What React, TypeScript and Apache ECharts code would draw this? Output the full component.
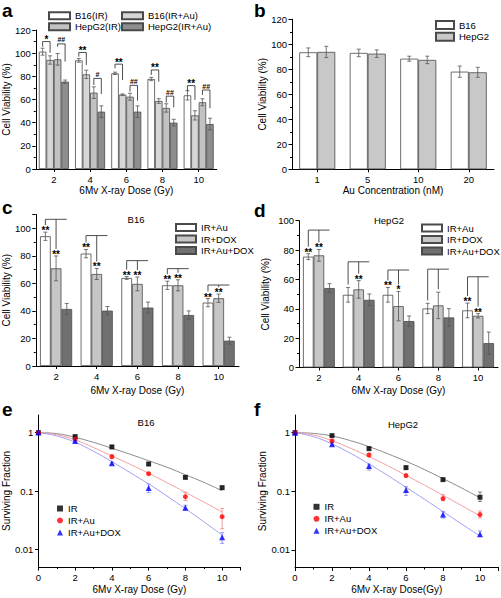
import React, { useEffect, useRef } from 'react';
import * as echarts from 'echarts';

const FONT = '"Liberation Sans", Arial, Helvetica, sans-serif';

// ---------- Panel a ----------
const doseCats = ['2', '4', '6', '8', '10'];
const aB16IR = [101.3, 93.8, 82.6, 77.7, 63.6];
const aB16IRErr = [3, 1.6, 1, 1.4, 4];
const aB16IRAu = [94.1, 81.7, 64.2, 58.7, 46.3];
const aB16IRAuErr = [3.6, 3.6, 0.6, 2, 4];
const aHepIR = [94.7, 65.9, 62.4, 52.7, 57.6];
const aHepIRErr = [5, 5, 3, 3.6, 3];
const aHepIRAu = [75.4, 49.5, 49.5, 40, 38.8];
const aHepIRAuErr = [1.4, 5, 5, 2.9, 5];
// significance brackets
const aBr1Top = [110, 100.6, 90.5, 85.5, 72];
const aBr1Left = [105.6, 97, 86.9, 81.2, 67.3];
const aBr1Right = [100.4, 89.8, 76.8, 75.4, 59.6];
const aBr1Label = ['*', '**', '**', '**', '**'];
const aBr2Top = [108, 78.2, 72.2, 62.9, 68.2];
const aBr2Left = [105.6, 72.5, 66.8, 57.3, 63.9];
const aBr2Right = [92.7, 64.7, 59, 53.2, 52.4];
const aBr2Label = ['##', '#', '##', '##', '##'];

// ---------- Panel b ----------
const auCats = ['1', '5', '10', '20'];
const bB16 = [93.6, 93.1, 88.5, 78.1];
const bB16Err = [3.5, 3, 2, 4.5];
const bHep = [93.9, 92.5, 87.5, 77.6];
const bHepErr = [4.5, 3, 3, 4];

// ---------- Panel c ----------
const cIRAu = [94.2, 81.6, 63.9, 58.6, 46];
const cIRAuErr = [3, 3, 1, 3, 3];
const cIRDOX = [70.9, 66.8, 59.6, 58.6, 49.2];
const cIRDOXErr = [9, 4, 5, 4, 3];
const cIRAuDOX = [41.4, 40.2, 42.4, 37, 18.4];
const cIRAuDOXErr = [4, 3, 4, 3, 2.5];
const cStarsAu = ['**', '**', '**', '**', '**'];
const cStarsDOX = ['**', '**', '**', '**', '**'];
const cBrTop = [106.5, 94.7, 76.5, 70.7, 58.8];

// ---------- Panel d ----------
const dIRAu = [75.5, 49.5, 49.5, 40.2, 38.9];
const dIRAuErr = [2, 5, 5, 3.5, 5];
const dIRDOX = [76.4, 53.2, 41.8, 42.3, 35.2];
const dIRDOXErr = [4, 6, 10, 9, 1.5];
const dIRAuDOX = [54.1, 46.1, 31.6, 34.1, 16.6];
const dIRAuDOXErr = [3, 4, 3.5, 6, 7.5];
const dStarsAu = ['**', '', '**', '', '**'];
const dStarsDOX = ['**', '**', '*', '', '**'];
const dBrTop = [93.6, 72, 66.4, 67, 61.8];

// ---------- Panel e (B16 survival) ----------
const sfDose = [0, 2, 4, 6, 8, 10];
const eIR = [1, 0.854, 0.568, 0.29, 0.171, 0.114];
const eIRLo = [1, 0.82, 0.54, 0.275, 0.165, 0.108];
const eIRHi = [1, 0.88, 0.6, 0.305, 0.18, 0.12];
const eIRAu = [1, 0.768, 0.388, 0.198, 0.08, 0.0363];
const eIRAuLo = [1, 0.73, 0.36, 0.19, 0.0684, 0.0226];
const eIRAuHi = [1, 0.8, 0.41, 0.205, 0.0947, 0.0503];
const eDOX = [1, 0.72, 0.298, 0.112, 0.0518, 0.0161];
const eDOXLo = [1, 0.69, 0.285, 0.0935, 0.047, 0.0127];
const eDOXHi = [1, 0.75, 0.31, 0.132, 0.057, 0.0193];
const fitDose = [0, 1, 2, 3, 4, 5, 6, 7, 8, 9, 10];
const eFitIR = [1, 0.96, 0.83, 0.68, 0.54, 0.425, 0.33, 0.255, 0.19, 0.141, 0.101];
const eFitIRAu = [1, 0.92, 0.75, 0.553, 0.398, 0.286, 0.201, 0.139, 0.095, 0.0647, 0.0437];
const eFitDOX = [1, 0.877, 0.683, 0.479, 0.318, 0.206, 0.132, 0.082, 0.0498, 0.0298, 0.0176];

// ---------- Panel f (HepG2 survival) ----------
const fIR = [1, 0.889, 0.533, 0.253, 0.158, 0.079];
const fIRLo = [1, 0.86, 0.51, 0.24, 0.152, 0.067];
const fIRHi = [1, 0.92, 0.56, 0.265, 0.165, 0.097];
const fIRAu = [1, 0.721, 0.416, 0.185, 0.075, 0.04];
const fIRAuLo = [1, 0.69, 0.39, 0.175, 0.069, 0.035];
const fIRAuHi = [1, 0.75, 0.44, 0.195, 0.087, 0.046];
const fDOX = [1, 0.633, 0.27, 0.105, 0.04, 0.0185];
const fDOXLo = [1, 0.6, 0.23, 0.085, 0.035, 0.017];
const fDOXHi = [1, 0.67, 0.29, 0.12, 0.045, 0.021];
const fFitIR = [1, 0.97, 0.877, 0.73, 0.577, 0.438, 0.325, 0.234, 0.164, 0.114, 0.077];
const fFitIRAu = [1, 0.912, 0.73, 0.541, 0.39, 0.274, 0.187, 0.127, 0.0855, 0.057, 0.038];
const fFitDOX = [1, 0.855, 0.641, 0.445, 0.292, 0.187, 0.117, 0.073, 0.045, 0.0277, 0.0173];

// ---------- styles ----------
const BORDER = '#4a4a4a';
const ERRC = '#555';
const TICK_FS = 9.5;
const NAME_FS = 10;

function stripName(n: string) {
  return n.slice(n.indexOf(':') + 1);
}

function yValAxis(gi: number, max: number, nameGap: number) {
  return {
    type: 'value', gridIndex: gi, min: 0, max, interval: 20,
    name: 'Cell Viability (%)', nameLocation: 'middle', nameGap,
    nameTextStyle: { fontSize: NAME_FS, color: '#000', fontFamily: FONT },
    axisLine: { show: true, lineStyle: { color: '#000', width: 1 } },
    axisTick: { show: true, length: 3.5, lineStyle: { color: '#000' } },
    minorTick: { show: true, splitNumber: 2, length: 2, lineStyle: { color: '#000' } },
    axisLabel: { fontSize: TICK_FS, color: '#000', margin: 5, fontFamily: FONT, showMaxLabel: max % 20 === 0 },
    splitLine: { show: false },
  };
}

function xCatAxis(gi: number, cats: string[], name: string, nameGap: number) {
  return {
    type: 'category', gridIndex: gi, data: cats,
    name, nameLocation: 'middle', nameGap,
    nameTextStyle: { fontSize: NAME_FS, color: '#000', fontFamily: FONT },
    axisLine: { show: true, lineStyle: { color: '#000', width: 1 } },
    axisTick: { show: true, alignWithLabel: true, length: 3, lineStyle: { color: '#000' } },
    axisLabel: { fontSize: TICK_FS, color: '#000', margin: 5, fontFamily: FONT },
    splitLine: { show: false },
  };
}

function barSeries(name: string, gi: number, data: number[], w: number, color: string) {
  return {
    type: 'bar', name, xAxisIndex: gi, yAxisIndex: gi, data,
    barWidth: w, barGap: '0%',
    itemStyle: { color, borderColor: BORDER, borderWidth: 0.8 },
    z: 2, silent: true,
  };
}

function errSeries(gi: number, vals: number[], errs: number[], idx: number, n: number, w: number) {
  return {
    type: 'custom', xAxisIndex: gi, yAxisIndex: gi, z: 5, silent: true,
    itemStyle: { color: ERRC },
    data: vals.map((v, i) => [i, v, errs[i]]),
    renderItem: (params: any, api: any) => {
      const cat = api.value(0);
      const v = api.value(1);
      const e = api.value(2);
      const x = api.coord([cat, v])[0] + (idx - (n - 1) / 2) * w;
      const yT = api.coord([cat, v + e])[1];
      const yB = api.coord([cat, v - e])[1];
      const cap = 2;
      const st = { stroke: ERRC, lineWidth: 0.8 };
      return {
        type: 'group',
        children: [
          { type: 'line', shape: { x1: x, y1: yT, x2: x, y2: yB }, style: st },
          { type: 'line', shape: { x1: x - cap, y1: yT, x2: x + cap, y2: yT }, style: st },
          { type: 'line', shape: { x1: x - cap, y1: yB, x2: x + cap, y2: yB }, style: st },
        ],
      };
    },
  };
}

function txt(text: string, x: number, y: number, fontSize: number, opts: any = {}) {
  return {
    type: 'text', x, y,
    style: {
      text, fontSize, fontFamily: FONT, fill: '#000',
      align: opts.align || 'center',
      verticalAlign: opts.va || 'middle',
      fontWeight: opts.bold ? 'bold' : 'normal',
    },
  };
}

function starText(text: string, x: number, y: number, fontSize: number) {
  return {
    type: 'text', x, y,
    style: { text, fontSize, fontFamily: FONT, fontWeight: 'bold', fill: '#000', align: 'center', verticalAlign: 'bottom' },
  };
}

// panel a brackets
function aBracketSeries(pair: number, tops: number[], lefts: number[], rights: number[], labels: string[]) {
  const w = 7.5;
  return {
    type: 'custom', xAxisIndex: 0, yAxisIndex: 0, z: 6, silent: true,
    itemStyle: { color: '#000' },
    data: tops.map((t, i) => [i, t]),
    renderItem: (params: any, api: any) => {
      const i = params.dataIndex;
      const cat = api.value(0);
      const xc = api.coord([cat, 0])[0];
      const x1 = xc + (pair * 2 - 1.5) * w;
      const x2 = xc + (pair * 2 + 1 - 1.5) * w;
      const yT = api.coord([cat, tops[i]])[1];
      const yL = api.coord([cat, lefts[i]])[1];
      const yR = api.coord([cat, rights[i]])[1];
      const isHash = labels[i].indexOf('#') >= 0;
      return {
        type: 'group',
        children: [
          { type: 'polyline', shape: { points: [[x1, yL], [x1, yT], [x2, yT], [x2, yR]] }, style: { stroke: '#222', lineWidth: 0.8, fill: null } },
          starText(labels[i], (x1 + x2) / 2, isHash ? yT - 0.5 : yT + 3, isHash ? 7 : 10),
        ],
      };
    },
  };
}

// panels c/d brackets and stars
function cdBracketSeries(gi: number, w: number, tops: number[], v0: number[], e0: number[], s0: string[], v1: number[], e1: number[], s1: string[]) {
  return {
    type: 'custom', xAxisIndex: gi, yAxisIndex: gi, z: 6, silent: true,
    itemStyle: { color: '#000' },
    data: tops.map((t, i) => [i, t]),
    renderItem: (params: any, api: any) => {
      const i = params.dataIndex;
      const cat = api.value(0);
      const xc = api.coord([cat, 0])[0];
      const xs = [xc - w, xc, xc + w];
      const yT = api.coord([cat, tops[i]])[1];
      const children: any[] = [];
      const ends: number[] = [];
      const defs = [[v0, e0, s0], [v1, e1, s1]] as any[];
      defs.forEach((d, j) => {
        const yE = api.coord([cat, d[0][i] + d[1][i]])[1];
        const star = d[2][i];
        if (star) {
          children.push(starText(star, xs[j], yE + 3.5, 10));
          ends.push(yE - 7);
        } else {
          ends.push(yE - 3);
        }
      });
      children.push({ type: 'polyline', shape: { points: [[xs[0], ends[0]], [xs[0], yT], [xs[2], yT]] }, style: { stroke: '#222', lineWidth: 0.8, fill: null } });
      children.push({ type: 'line', shape: { x1: xs[1], y1: yT, x2: xs[1], y2: ends[1] }, style: { stroke: '#222', lineWidth: 0.8 } });
      return { type: 'group', children };
    },
  };
}

function logErrSeries(gi: number, lo: number[], hi: number[], color: string) {
  return {
    type: 'custom', xAxisIndex: gi, yAxisIndex: gi, z: 4, silent: true,
    itemStyle: { color },
    data: sfDose.map((d, i) => [d, lo[i], hi[i]]),
    renderItem: (params: any, api: any) => {
      const x = api.coord([api.value(0), api.value(1)])[0];
      const yL = api.coord([api.value(0), api.value(1)])[1];
      const yH = api.coord([api.value(0), api.value(2)])[1];
      const cap = 2;
      const st = { stroke: color, lineWidth: 0.8 };
      return {
        type: 'group',
        children: [
          { type: 'line', shape: { x1: x, y1: yH, x2: x, y2: yL }, style: st },
          { type: 'line', shape: { x1: x - cap, y1: yH, x2: x + cap, y2: yH }, style: st },
          { type: 'line', shape: { x1: x - cap, y1: yL, x2: x + cap, y2: yL }, style: st },
        ],
      };
    },
  };
}

function fitSeries(gi: number, ys: number[], color: string) {
  return {
    type: 'line', xAxisIndex: gi, yAxisIndex: gi, z: 2, silent: true,
    data: fitDose.map((d, i) => [d, ys[i]]),
    smooth: 0.4, showSymbol: false, symbol: 'none',
    lineStyle: { color, width: 1 },
  };
}

function pointSeries(name: string, gi: number, ys: number[], symbol: string, size: number, color: string) {
  return {
    type: 'scatter', name, xAxisIndex: gi, yAxisIndex: gi, z: 5, silent: true,
    data: sfDose.map((d, i) => [d, ys[i]]),
    symbol, symbolSize: size, itemStyle: { color },
  };
}

function xDoseAxis(gi: number, name: string) {
  return {
    type: 'value', gridIndex: gi, min: 0, max: 11, interval: 2,
    name, nameLocation: 'middle', nameGap: 17,
    nameTextStyle: { fontSize: NAME_FS, color: '#000', fontFamily: FONT },
    axisLine: { show: true, onZero: false, lineStyle: { color: '#000', width: 1 } },
    axisTick: { show: true, length: 3.5, lineStyle: { color: '#000' } },
    minorTick: { show: true, splitNumber: 2, length: 2, lineStyle: { color: '#000' } },
    axisLabel: { fontSize: TICK_FS, color: '#000', margin: 5, fontFamily: FONT, showMaxLabel: false },
    splitLine: { show: false },
  };
}

function yLogAxis(gi: number, nameGap: number) {
  return {
    type: 'log', logBase: 10, gridIndex: gi, min: 0.005, max: 2,
    name: 'Surviving Fraction', nameLocation: 'middle', nameGap,
    nameTextStyle: { fontSize: NAME_FS, color: '#000', fontFamily: FONT },
    axisLine: { show: true, onZero: false, lineStyle: { color: '#000', width: 1 } },
    axisTick: { show: true, length: 3.5, lineStyle: { color: '#000' } },
    axisLabel: { fontSize: TICK_FS, color: '#000', margin: 5, fontFamily: FONT, showMinLabel: false, showMaxLabel: false },
    splitLine: { show: false },
  };
}

const barLegend = (left: number, top: number, data: string[], iw: number, ih: number, gap: number) => ({
  left, top, orient: 'vertical', padding: 0, itemGap: gap, itemWidth: iw, itemHeight: ih,
  icon: 'rect', selectedMode: false, data, formatter: stripName,
  textStyle: { fontSize: 9.5, color: '#000', fontFamily: FONT, lineHeight: 11 },
});

const sfLegend = (left: number, top: number, p: string) => ({
  left, top, orient: 'vertical', padding: 0, itemGap: 1, itemWidth: 6, itemHeight: 6,
  selectedMode: false, formatter: stripName,
  data: [
    { name: p + ':IR', icon: 'rect' },
    { name: p + ':IR+Au', icon: 'circle' },
    { name: p + ':IR+Au+DOX', icon: 'triangle' },
  ],
  textStyle: { fontSize: 9.5, color: '#000', fontFamily: FONT, lineHeight: 11 },
});

export default function App() {
  const ref = useRef<HTMLDivElement>(null);
  useEffect(() => {
    if (!ref.current) return;
    const chart = echarts.init(ref.current, null, { renderer: 'svg' });
    const option: any = {
      animation: false,
      textStyle: { fontFamily: FONT },
      grid: [
        { left: 31.5, top: 30, width: 185.3, height: 139 },
        { left: 292, top: 19.3, width: 202, height: 150 },
        { left: 35, top: 214.5, width: 204, height: 151.5 },
        { left: 299, top: 220.7, width: 199, height: 146.8 },
        { left: 37.5, top: 415, width: 203, height: 152 },
        { left: 295, top: 415, width: 203.5, height: 152.5 },
      ],
      xAxis: [
        xCatAxis(0, doseCats, '6Mv X-ray Dose (Gy)', 16),
        xCatAxis(1, auCats, 'Au Concentration (nM)', 11),
        xCatAxis(2, doseCats, '6Mv X-ray Dose (Gy)', 19),
        xCatAxis(3, doseCats, '6Mv X-ray Dose (Gy)', 18),
        xDoseAxis(4, '6Mv X-ray Dose (Gy)'),
        xDoseAxis(5, '6Mv X-ray Dose(Gy)'),
      ],
      yAxis: [
        yValAxis(0, 120, 17.5),
        yValAxis(1, 120, 21),
        yValAxis(2, 110, 22.5),
        yValAxis(3, 100, 28.5),
        yLogAxis(4, 22),
        yLogAxis(5, 27),
      ],
      legend: [
        barLegend(48, 10.2, ['a:B16(IR)', 'a:HepG2(IR)'], 21, 7, 0),
        barLegend(121, 10.2, ['a:B16(IR+Au)', 'a:HepG2(IR+Au)'], 21, 7, 0),
        barLegend(435, 19.5, ['b:B16', 'b:HepG2'], 18, 8, 0.7),
        barLegend(175, 222, ['c:IR+Au', 'c:IR+DOX', 'c:IR+Au+DOX'], 20, 7, 0.5),
        barLegend(421, 222.5, ['d:IR+Au', 'd:IR+DOX', 'd:IR+Au+DOX'], 20, 7, 0.5),
        sfLegend(57, 503, 'e'),
        sfLegend(313.5, 501.3, 'f'),
      ],
      graphic: [
        txt('a', 2, 1, 19, { bold: true, align: 'left', va: 'top' }),
        txt('b', 254, 1, 19, { bold: true, align: 'left', va: 'top' }),
        txt('c', 2, 198, 19, { bold: true, align: 'left', va: 'top' }),
        txt('d', 254, 201, 19, { bold: true, align: 'left', va: 'top' }),
        txt('e', 2, 400, 19, { bold: true, align: 'left', va: 'top' }),
        txt('f', 254, 400, 19, { bold: true, align: 'left', va: 'top' }),
        txt('B16', 136, 219, 9.5),
        txt('HepG2', 389, 220, 9.5),
        txt('B16', 146, 422, 9.5),
        txt('HepG2', 403, 424, 9.5),
      ],
      series: [
        // a
        barSeries('a:B16(IR)', 0, aB16IR, 7.5, '#ffffff'),
        barSeries('a:B16(IR+Au)', 0, aB16IRAu, 7.5, '#d6d6d6'),
        barSeries('a:HepG2(IR)', 0, aHepIR, 7.5, '#c2c2c2'),
        barSeries('a:HepG2(IR+Au)', 0, aHepIRAu, 7.5, '#8e8e8e'),
        errSeries(0, aB16IR, aB16IRErr, 0, 4, 7.5),
        errSeries(0, aB16IRAu, aB16IRAuErr, 1, 4, 7.5),
        errSeries(0, aHepIR, aHepIRErr, 2, 4, 7.5),
        errSeries(0, aHepIRAu, aHepIRAuErr, 3, 4, 7.5),
        aBracketSeries(0, aBr1Top, aBr1Left, aBr1Right, aBr1Label),
        aBracketSeries(1, aBr2Top, aBr2Left, aBr2Right, aBr2Label),
        // b
        barSeries('b:B16', 1, bB16, 18, '#ffffff'),
        barSeries('b:HepG2', 1, bHep, 18, '#c8c8c8'),
        errSeries(1, bB16, bB16Err, 0, 2, 18),
        errSeries(1, bHep, bHepErr, 1, 2, 18),
        // c
        barSeries('c:IR+Au', 2, cIRAu, 10.7, '#ffffff'),
        barSeries('c:IR+DOX', 2, cIRDOX, 10.7, '#c6c6c6'),
        barSeries('c:IR+Au+DOX', 2, cIRAuDOX, 10.7, '#707070'),
        errSeries(2, cIRAu, cIRAuErr, 0, 3, 10.7),
        errSeries(2, cIRDOX, cIRDOXErr, 1, 3, 10.7),
        errSeries(2, cIRAuDOX, cIRAuDOXErr, 2, 3, 10.7),
        cdBracketSeries(2, 10.7, cBrTop, cIRAu, cIRAuErr, cStarsAu, cIRDOX, cIRDOXErr, cStarsDOX),
        // d
        barSeries('d:IR+Au', 3, dIRAu, 10.6, '#ffffff'),
        barSeries('d:IR+DOX', 3, dIRDOX, 10.6, '#c6c6c6'),
        barSeries('d:IR+Au+DOX', 3, dIRAuDOX, 10.6, '#707070'),
        errSeries(3, dIRAu, dIRAuErr, 0, 3, 10.6),
        errSeries(3, dIRDOX, dIRDOXErr, 1, 3, 10.6),
        errSeries(3, dIRAuDOX, dIRAuDOXErr, 2, 3, 10.6),
        cdBracketSeries(3, 10.6, dBrTop, dIRAu, dIRAuErr, dStarsAu, dIRDOX, dIRDOXErr, dStarsDOX),
        // e
        fitSeries(4, eFitIR, '#8c8c8c'),
        fitSeries(4, eFitIRAu, '#f4a0a0'),
        fitSeries(4, eFitDOX, '#a0a0f4'),
        logErrSeries(4, eIRLo, eIRHi, '#666666'),
        logErrSeries(4, eIRAuLo, eIRAuHi, '#f08080'),
        logErrSeries(4, eDOXLo, eDOXHi, '#8080f0'),
        pointSeries('e:IR', 4, eIR, 'rect', 5, '#000000'),
        pointSeries('e:IR+Au', 4, eIRAu, 'circle', 5, '#ff0000'),
        pointSeries('e:IR+Au+DOX', 4, eDOX, 'triangle', 6, '#0000ff'),
        // f
        fitSeries(5, fFitIR, '#8c8c8c'),
        fitSeries(5, fFitIRAu, '#f4a0a0'),
        fitSeries(5, fFitDOX, '#a0a0f4'),
        logErrSeries(5, fIRLo, fIRHi, '#666666'),
        logErrSeries(5, fIRAuLo, fIRAuHi, '#f08080'),
        logErrSeries(5, fDOXLo, fDOXHi, '#8080f0'),
        pointSeries('f:IR', 5, fIR, 'rect', 5, '#000000'),
        pointSeries('f:IR+Au', 5, fIRAu, 'circle', 5, '#ff0000'),
        pointSeries('f:IR+Au+DOX', 5, fDOX, 'triangle', 6, '#0000ff'),
      ],
    };
    chart.setOption(option);
    return () => chart.dispose();
  }, []);
  return <div ref={ref} style={{ position: 'absolute', left: 0, top: 0, width: 501, height: 598, background: '#fff' }} />;
}
